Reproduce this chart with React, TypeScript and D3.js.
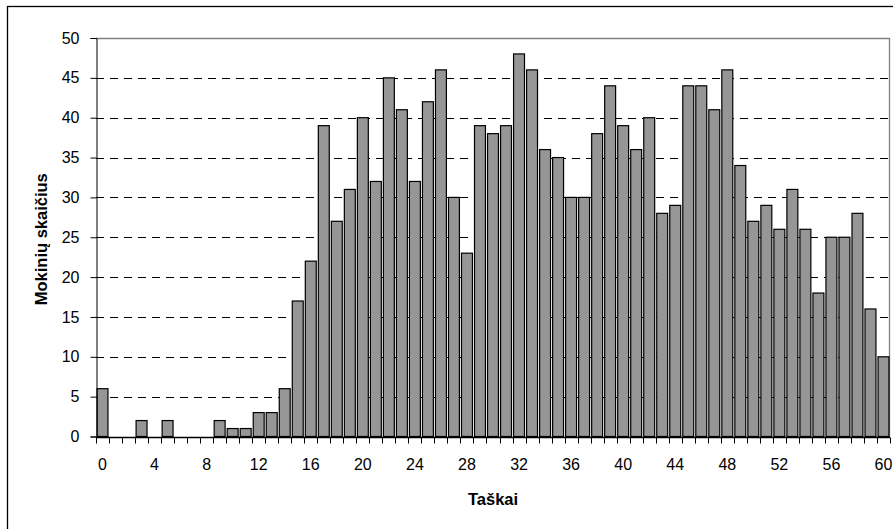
import React, { useEffect, useRef } from "react";
import * as d3 from "d3";

// Taškai (score) 0..60 and number of pupils
const points: number[] = d3.range(0, 61);
const pupils: number[] = [
  6, 0, 0, 2, 0, 2, 0, 0, 0, 2, 1, 1, 3, 3, 6, 17, 22, 39, 27, 31, 40, 32, 45,
  41, 32, 42, 46, 30, 23, 39, 38, 39, 48, 46, 36, 35, 30, 30, 38, 44, 39, 36,
  40, 28, 29, 44, 44, 41, 46, 34, 27, 29, 26, 31, 26, 18, 25, 25, 28, 16, 10,
];
const yTicks: number[] = [0, 5, 10, 15, 20, 25, 30, 35, 40, 45, 50];
const xLabelEvery = 4;

const App: React.FC = () => {
  const ref = useRef<SVGSVGElement>(null);

  useEffect(() => {
    const width = 893,
      height = 529;
    const margin = { left: 96, top: 38, right: 3, bottom: 92 };
    const font = "'Liberation Sans', Arial, sans-serif";

    const svg = d3.select(ref.current);
    svg.selectAll("*").remove();

    // outer chart border (runs off the right and bottom)
    svg
      .append("rect")
      .attr("x", 7.5)
      .attr("y", 6.5)
      .attr("width", 920)
      .attr("height", 560)
      .attr("fill", "white")
      .attr("stroke", "black")
      .attr("stroke-width", 1.3);

    const x = d3
      .scaleBand<number>()
      .domain(points)
      .range([margin.left, width - margin.right])
      .paddingInner(0.16)
      .paddingOuter(0.08);

    const y = d3
      .scaleLinear()
      .domain([0, 50])
      .range([height - margin.bottom - 0.5, margin.top]);

    const step = x.step();
    const x0 = margin.left;
    const x1 = width - margin.right;

    // grid lines
    svg
      .selectAll(".grid")
      .data(yTicks.filter((d) => d > 0 && d < 50))
      .enter()
      .append("line")
      .attr("class", "grid")
      .attr("x1", x0)
      .attr("x2", x1)
      .attr("y1", (d) => Math.round(y(d)) + 0.5)
      .attr("y2", (d) => Math.round(y(d)) + 0.5)
      .attr("stroke", "black")
      .attr("stroke-dasharray", "8,6");

    // plot area top/right border (gray)
    svg
      .append("path")
      .attr(
        "d",
        `M${x0},${Math.round(y(50)) + 0.5}H${x1 - 0.5}V${Math.round(y(0))}`,
      )
      .attr("fill", "none")
      .attr("stroke", "#808080")
      .attr("stroke-width", 1.3);

    // bars
    svg
      .selectAll(".bar")
      .data(pupils)
      .enter()
      .append("rect")
      .attr("class", "bar")
      .attr("x", (d, i) => x(points[i])!)
      .attr("y", (d) => y(d))
      .attr("width", x.bandwidth())
      .attr("height", (d) => y(0) - y(d))
      .attr("fill", "#969696")
      .attr("stroke", "black")
      .attr("stroke-width", 1.2);

    // y axis
    const yAxis = svg
      .append("g")
      .attr("transform", `translate(${x0 + 0.5},0)`)
      .call(d3.axisLeft(y).tickValues(yTicks).tickSize(6).tickPadding(11));
    yAxis.select(".domain").attr("stroke", "black");
    yAxis
      .selectAll("text")
      .attr("font-family", font)
      .attr("font-size", 16)
      .attr("fill", "black");

    // x axis: ticks at category boundaries, labels every 4
    const baseY = Math.round(y(0)) + 0.5;
    svg
      .append("line")
      .attr("x1", x0)
      .attr("x2", x1)
      .attr("y1", baseY)
      .attr("y2", baseY)
      .attr("stroke", "black")
      .attr("stroke-width", 1.3);

    svg
      .selectAll(".xtick")
      .data(d3.range(0, points.length + 1))
      .enter()
      .append("line")
      .attr("class", "xtick")
      .attr("x1", (i) => Math.round(x0 + i * step) + 0.5)
      .attr("x2", (i) => Math.round(x0 + i * step) + 0.5)
      .attr("y1", baseY)
      .attr("y2", baseY + 6)
      .attr("stroke", "black");

    svg
      .selectAll(".xlabel")
      .data(points.filter((p) => p % xLabelEvery === 0))
      .enter()
      .append("text")
      .attr("class", "xlabel")
      .attr("x", (p) => x(p)! + x.bandwidth() / 2)
      .attr("y", 470)
      .attr("text-anchor", "middle")
      .attr("font-family", font)
      .attr("font-size", 16)
      .text((p) => p);

    // axis titles
    svg
      .append("text")
      .attr("x", (x0 + x1) / 2)
      .attr("y", 505)
      .attr("text-anchor", "middle")
      .attr("font-family", font)
      .attr("font-size", 16.5)
      .attr("font-weight", "bold")
      .text("Taškai");

    svg
      .append("text")
      .attr("transform", `translate(47,${(y(0) + y(50)) / 2 + 2}) rotate(-90)`)
      .attr("text-anchor", "middle")
      .attr("font-family", font)
      .attr("font-size", 16.5)
      .attr("font-weight", "bold")
      .text("Mokinių skaičius");
  }, []);

  return (
    <svg
      ref={ref}
      width={893}
      height={529}
      style={{ position: "absolute", left: 0, top: 0 }}
    />
  );
};

export default App;
